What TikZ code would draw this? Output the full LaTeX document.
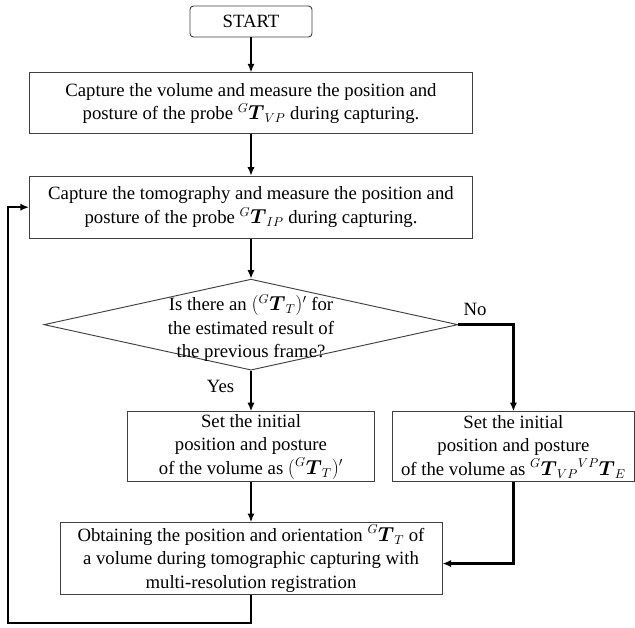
\documentclass[tikz,border=0pt]{standalone}
\usepackage{amsmath,amssymb}
\usepackage{fontspec}
\setmainfont{Liberation Serif}
\usepackage{tikz}
\usetikzlibrary{shapes,arrows,positioning,calc,arrows.meta}
\tikzset{
  flow start/.style={rectangle, draw=black!75, line width=0.8pt, rounded corners=3pt, align=center, minimum height=0.93cm, minimum width=3.66cm},
  flow step/.style={rectangle, draw=black!75, line width=0.8pt, align=center, inner sep=2pt},
  flow check/.style={diamond, draw=black!75, line width=0.8pt, minimum width=12.42cm, minimum height=2.73cm, inner sep=0pt},
  flow line/.style={line width=2.1pt, -{Latex[length=2.6mm, width=2.2mm]}}
}

\begin{document}
\begin{tikzpicture}[font=\fontsize{16}{20}\selectfont]
    \useasboundingbox (-7.53,0.645) rectangle (11.52,-18.165);
    % Nodes for the capturing steps
    \node [flow start] (Start) at (0,0) {START};
    \node [flow step, below=1.05cm of Start, minimum width=13.29cm, minimum height=1.83cm] (Volume)
        {Capture the volume and measure the position and\\ posture of the probe ${}^{G}\boldsymbol{T}_{VP}$ during capturing.};
    \node [flow step, below=1.24cm of Volume, minimum width=13.29cm, minimum height=1.86cm] (Tomo)
        {Capture the tomography and measure the position and\\ posture of the probe ${}^{G}\boldsymbol{T}_{IP}$ during capturing.};

    % Decision
    \node [flow check, below=1.2cm of Tomo] (Check) {};
    \node [align=center, yshift=-0.1cm] (CheckText) at (Check.center)
        {Is there an $({}^{G}\boldsymbol{T}_{T})'$ for\\ the estimated result of\\ the previous frame?};

    % Nodes for the initial guess
    \node [flow step, below=1.22cm of Check, minimum width=7.41cm, minimum height=2.1cm] (InitPrev)
        {Set the initial\\ position and posture\\ of the volume as $({}^{G}\boldsymbol{T}_{T})'$};
    \node [flow step, right=0.51cm of InitPrev, minimum width=7.26cm, minimum height=2.1cm] (InitVol)
        {Set the initial\\ position and posture\\ of the volume as ${}^{G}\boldsymbol{T}_{VP}{}^{VP}\boldsymbol{T}_{E}$};
    \node [flow step, below=1.2cm of InitPrev, minimum width=11.46cm, minimum height=2.1cm] (Result)
        {Obtaining the position and orientation ${}^{G}\boldsymbol{T}_{T}$ of\\ a volume during tomographic capturing with\\ multi-resolution registration};

    % Connectors
    \draw [flow line] (Start) -- (Volume);
    \draw [flow line] (Volume) -- (Tomo);
    \draw [flow line] (Tomo) -- (Check);
    \draw [flow line] (Check) -- (InitPrev) node[pos=0.38, left=0.35cm] {Yes};
    \draw [flow line] (Check.east) node[above right, yshift=3pt] {No} -| (InitVol.north);
    \draw [flow line] (InitPrev) -- (Result);
    \draw [flow line] (InitVol.south) |- ([yshift=-0.15cm]Result.east);

    % Loop back to the next frame
    \coordinate (LoopCorner) at ($(Result.south -| Tomo.west) + (-0.63,-0.85)$);
    \draw [flow line] (Result.south) |- (LoopCorner) |- (Tomo.west);
\end{tikzpicture}
\end{document}
